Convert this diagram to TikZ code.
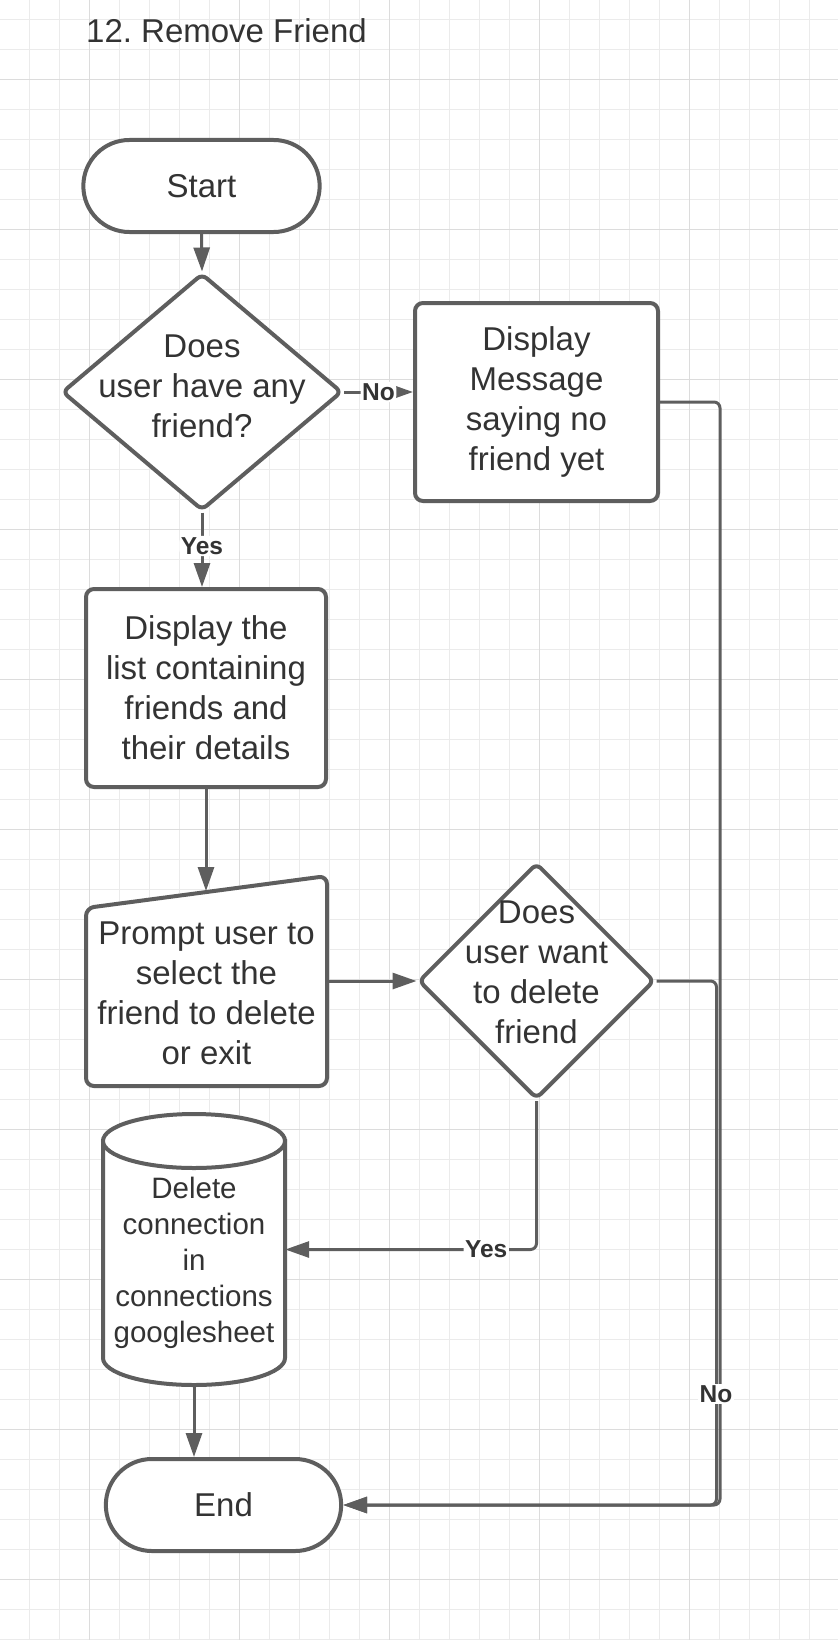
\documentclass[tikz,border=0pt]{standalone}
\usepackage{fontspec}
\setmainfont{Liberation Sans}
\usetikzlibrary{arrows.meta,shapes.geometric,shapes.misc}
\definecolor{linegray}{HTML}{5E5E5E}
\definecolor{textgray}{HTML}{333333}
\definecolor{gridminor}{HTML}{EBEBEB}
\definecolor{gridmajor}{HTML}{DCDCDC}
\newcommand{\txtbig}{\fontsize{33}{40}\selectfont}
\newcommand{\txtdb}{\fontsize{29.5}{36}\selectfont}
\newcommand{\txtlbl}{\fontsize{24.5}{28}\selectfont\bfseries}
\frenchspacing

\begin{document}
\begin{tikzpicture}[x=1pt,y=-1pt,>={Triangle[length=24pt,width=16pt]},
  shapeline/.style={draw=linegray,line width=4pt,fill=white},
  termbox/.style={shapeline,rounded rectangle,minimum width=243pt,minimum height=92pt,font=\txtbig,text=textgray},
  procbox/.style={shapeline,rectangle,rounded corners=8pt,minimum height=198pt,align=center,font=\txtbig,text=textgray},
  decision/.style={shapeline,diamond,rounded corners=6pt,inner sep=0pt},
  flowtext/.style={align=center,font=\txtbig,text=textgray,inner sep=0pt},
  flowarrow/.style={->,draw=linegray,line width=3pt,rounded corners=6pt},
  flowlabel/.style={fill=white,font=\txtlbl,text=textgray,inner sep=1.5pt}]
\useasboundingbox (0,0) rectangle (838,1640);
% grid
\fill[white] (0,0) rectangle (838,1640);
\foreach \k in {0,...,26} \draw[gridminor,line width=1pt] ({29.7+30*\k},0) -- ++(0,1640);
\foreach \k in {0,...,54} \draw[gridminor,line width=1pt] (0,{19.3+30*\k}) -- ++(838,0);
\foreach \k in {0,...,4} \draw[gridmajor,line width=1.2pt] ({89.7+150*\k},0) -- ++(0,1640);
\foreach \k in {0,...,10} \draw[gridmajor,line width=1.2pt] (0,{79.3+150*\k}) -- ++(838,0);
% title
\node[anchor=base west,font=\txtbig,text=textgray,inner sep=0pt] (title) at (86,43) {12. Remove Friend};
% first check
\node[termbox] (start) at (201.5,186) {Start};
\node[decision,minimum width=280pt,minimum height=237pt] (hasfriend) at (202,392) {};
\node[flowtext] (hasfriendtxt) at (202,386) {Does\\user have any\\friend?};
\node[procbox,minimum width=243pt] (nomsg) at (536.5,402) {Display\\Message\\saying no\\friend yet};
\node[procbox,minimum width=240pt] (list) at (206,688) {Display the\\list containing\\friends and\\their details};
% prompt (manual input)
\filldraw[shapeline,rounded corners=8pt] (86,1086) -- (86,908) -- (327,876) -- (327,1086) -- cycle;
\node[minimum width=241pt,minimum height=210pt,inner sep=0pt] (prompt) at (206.5,981) {};
\node[flowtext] (prompttxt) at (206.5,993) {Prompt user to\\select the\\friend to delete\\or exit};
\coordinate (promptin) at (206,891);
\node[decision,minimum width=236pt,minimum height=236pt] (wantdel) at (536.5,981) {};
\node[flowtext] (wantdeltxt) at (536.5,972) {Does\\user want\\to delete\\friend};
% database
\filldraw[shapeline] (103,1141) -- (103,1358) arc[start angle=180,end angle=360,x radius=91pt,y radius=27pt] -- (285,1141) -- cycle;
\filldraw[shapeline] (194,1141) ellipse[x radius=91pt,y radius=27pt];
\node[minimum width=182pt,minimum height=271pt,inner sep=0pt] (db) at (194,1249.5) {};
\node[flowtext,font=\txtdb] (dbtxt) at (194,1263) {Delete\\connection\\in\\connections\\googlesheet};
\node[termbox,minimum width=242pt] (finish) at (223.5,1505) {End};
% connectors
\draw[flowarrow] (start.south) -- (hasfriend.north);
\draw[flowarrow] (hasfriend.east) -- (hasfriend.east -| nomsg.west) node[flowlabel,pos=0.5] {No};
\draw[flowarrow] (hasfriend.south) -- (hasfriend.south |- list.north) node[flowlabel,pos=0.45] {Yes};
\draw[flowarrow] (list.south) -- (promptin);
\draw[flowarrow] (prompt.east) -- (wantdel.west);
\draw[flowarrow] (wantdel.south) |- (db.east) node[flowlabel,pos=0.6] {Yes};
\draw[flowarrow] (db.south) -- (db.south |- finish.north);
\draw[flowarrow] (nomsg.east) -- ++(60,0) |- (finish.east);
\draw[flowarrow] (wantdel.east) -- ++(60,0) |- (finish.east);
\node[flowlabel] (nolbl) at (716,1394) {No};
\end{tikzpicture}
\end{document}
